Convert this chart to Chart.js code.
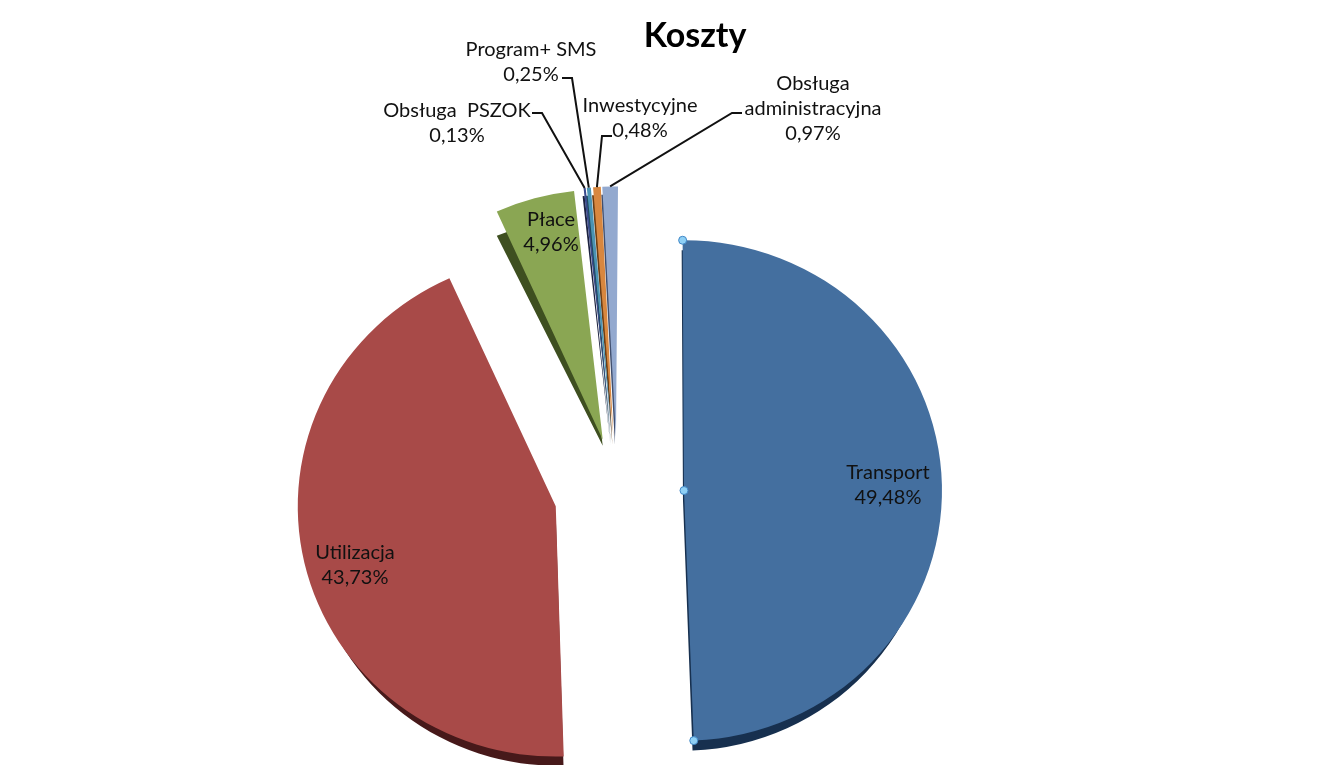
<!DOCTYPE html>
<html lang="pl">
<head>
<meta charset="utf-8">
<title>Koszty</title>
<script src="https://cdn.jsdelivr.net/npm/chart.js@4"></script>
<style>
    html, body { margin: 0; padding: 0; background: #fff; }
    #wrap { width: 1341px; height: 765px; overflow: hidden; }
</style>
</head>
<body>
<div id="wrap"><canvas id="kosztyChart" width="1341" height="765"></canvas></div>
<script>
// ========================================
// DATA
// ========================================
const chartTitle = 'Koszty';
const categories = ['Transport', 'Utilizacja', 'Płace', 'Obsługa  PSZOK', 'Program+ SMS', 'Inwestycyjne', 'Obsługa administracyjna'];
const shares = [49.48, 43.73, 4.96, 0.13, 0.25, 0.48, 0.97];

// ========================================
// LOOK OF THE SLICES
// ========================================
const faceColors = ['#446f9f', '#a84a48', '#8aa653', '#3a4a8c', '#4b93b3', '#d8873f', '#93a9cf'];
const sideColors = ['#17304f', '#47191a', '#3e4f20', '#1c2240', '#1f4a5c', '#6b3d14', '#414f6e'];
const explode = [66, 64, 56, 57, 57, 57, 57];
const tilt = [0, 0.4, 0.5, 0.7, 0.8, 1, 0.75];
const sideDepth = [[-1, 10], [0, 9], [0, 6], [-1, 8], [-1, 8], [-1, 8], [-1, 8]];
const sideScale = [[0.975, 1], [0.97, 1], [1, 0.92], [1, 1], [1, 1], [1, 1], [1, 1]];
const squash = 0.97;

// label lines: slice index, centre x, first row centre y
const textFont = '20px Lato, "Open Sans", sans-serif';
const labelSpots = [
    { i: 0, x: 888, y: 473, lines: ['Transport'] },
    { i: 1, x: 355, y: 553, lines: ['Utilizacja'] },
    { i: 2, x: 551, y: 220, lines: ['Płace'] },
    { i: 3, x: 457, y: 111, lines: ['Obsługa  PSZOK'] },
    { i: 4, x: 531, y: 50, lines: ['Program+ SMS'] },
    { i: 5, x: 640, y: 106, lines: ['Inwestycyjne'] },
    { i: 6, x: 813, y: 84, lines: ['Obsługa', 'administracyjna'] }
];

// leader lines: [start x, y, elbow x, y] - they end on the slice's outer edge
const leaders = [
    { i: 3, pts: [532, 113, 542, 113] },
    { i: 4, pts: [562, 78, 572, 78] },
    { i: 5, pts: [612, 136, 602, 136] },
    { i: 6, pts: [742, 113, 732, 113] }
];

function percentText(v) {
    return v.toFixed(2).replace('.', ',') + '%';
}

// applies squash, tilt and explosion of one slice to the context
function placeSlice(ctx, arc, i) {
    const mid = (arc.startAngle + arc.endAngle) / 2;
    ctx.translate(arc.x, arc.y);
    ctx.scale(1, squash);
    ctx.translate(Math.cos(mid) * explode[i], Math.sin(mid) * explode[i]);
    ctx.rotate(tilt[i] * Math.PI / 180);
    ctx.translate(-arc.x, -arc.y);
}

// point on a slice after placeSlice
function slicePoint(arc, i, angle, radius) {
    const mid = (arc.startAngle + arc.endAngle) / 2;
    const a = angle + tilt[i] * Math.PI / 180;
    const x = Math.cos(mid) * explode[i] + Math.cos(a) * radius;
    const y = Math.sin(mid) * explode[i] + Math.sin(a) * radius;
    return { x: arc.x + x, y: arc.y + y * squash };
}

const explodedPie = {
    id: 'explodedPie',
    afterLayout(chart) {
        // title sits right of the pie centre in the original
        chart.titleBlock.left += 77;
        chart.titleBlock.right += 77;
    },
    beforeDatasetDraw(chart, args) {
        const ctx = chart.ctx;
        const arcs = args.meta.data;

        // dark sides first, faces on top
        arcs.forEach(function(arc, i) {
            const opts = arc.options;
            const apex = slicePoint(arc, i, arc.startAngle, 0);
            ctx.save();
            ctx.translate(sideDepth[i][0], sideDepth[i][1]);
            ctx.translate(apex.x, apex.y);
            ctx.scale(sideScale[i][0], sideScale[i][1]);
            ctx.translate(-apex.x, -apex.y);
            placeSlice(ctx, arc, i);
            arc.options = Object.assign({}, opts, { backgroundColor: sideColors[i], borderWidth: 0 });
            arc.draw(ctx);
            arc.options = opts;
            ctx.restore();
        });
        arcs.forEach(function(arc, i) {
            ctx.save();
            placeSlice(ctx, arc, i);
            arc.draw(ctx);
            ctx.restore();
        });
        return false;
    },
    afterDatasetsDraw(chart) {
        const ctx = chart.ctx;
        const arcs = chart.getDatasetMeta(0).data;

        // leader lines
        ctx.save();
        ctx.strokeStyle = '#111';
        ctx.lineWidth = 2;
        leaders.forEach(function(l) {
            const arc = arcs[l.i];
            const end = slicePoint(arc, l.i, (arc.startAngle + arc.endAngle) / 2, arc.outerRadius);
            ctx.beginPath();
            ctx.moveTo(l.pts[0], l.pts[1]);
            ctx.lineTo(l.pts[2], l.pts[3]);
            ctx.lineTo(end.x, end.y);
            ctx.stroke();
        });
        ctx.restore();

        // selection handles on the Transport slice
        const first = arcs[0];
        const handles = [
            slicePoint(first, 0, first.startAngle, first.outerRadius),
            slicePoint(first, 0, first.startAngle, 0),
            slicePoint(first, 0, first.endAngle, first.outerRadius)
        ];
        ctx.save();
        ctx.fillStyle = '#8fd0f5';
        ctx.strokeStyle = '#3f86c6';
        ctx.lineWidth = 1;
        handles.forEach(function(p) {
            ctx.beginPath();
            ctx.arc(p.x, p.y, 4, 0, Math.PI * 2);
            ctx.fill();
            ctx.stroke();
        });
        ctx.restore();

        // labels
        ctx.save();
        ctx.font = textFont;
        ctx.fillStyle = '#111';
        ctx.textAlign = 'center';
        ctx.textBaseline = 'middle';
        labelSpots.forEach(function(s) {
            const rows = s.lines.concat([percentText(shares[s.i])]);
            rows.forEach(function(row, r) {
                ctx.fillText(row, s.x, s.y + r * 25);
            });
        });
        ctx.restore();
    }
};

// ========================================
// CHART
// ========================================
document.addEventListener('DOMContentLoaded', function() {
    new Chart(document.getElementById('kosztyChart').getContext('2d'), {
        type: 'pie',
        data: {
            labels: categories,
            datasets: [{
                data: shares,
                backgroundColor: faceColors,
                borderWidth: 0
            }]
        },
        options: {
            responsive: false,
            animation: false,
            radius: 258,
            rotation: -0.3,
            layout: { padding: { left: 0, right: 105, top: 0, bottom: 0 } },
            plugins: {
                legend: { display: false },
                tooltip: { enabled: false },
                title: {
                    display: true,
                    text: chartTitle,
                    color: '#000',
                    font: { family: 'Lato, "Open Sans", sans-serif', size: 34, weight: 'bold' },
                    padding: { top: 16, bottom: 162 }
                }
            }
        },
        plugins: [explodedPie]
    });
});
</script>
</body>
</html>
